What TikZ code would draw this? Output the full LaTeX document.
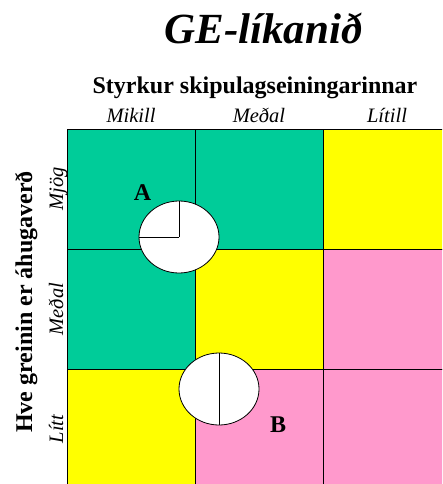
\documentclass[tikz,border=0pt]{standalone}
\usepackage{fontspec}
\setmainfont{Liberation Serif}
\usetikzlibrary{positioning, shapes.geometric}

\begin{document}
\begin{tikzpicture}[x=1pt, y=-1pt, line width=0.8pt,
    cell/.style={draw, inner sep=0pt, outer sep=0pt,
                 minimum width=128pt, minimum height=120pt},
    hi/.style={cell, fill=geGreen},
    mid/.style={cell, fill=geYellow},
    lo/.style={cell, fill=gePink},
    pie/.style={draw, fill=white, ellipse, inner sep=0pt,
                minimum width=80pt, minimum height=72pt},
    axis/.style={font=\fontsize{24}{28}\selectfont\bfseries, anchor=base},
    tick/.style={font=\fontsize{20.5}{24}\selectfont\itshape, anchor=base},
    tag/.style={font=\fontsize{24}{28}\selectfont\bfseries, anchor=base}]

    \definecolor{geGreen}{RGB}{0,204,153}
    \definecolor{geYellow}{RGB}{255,255,0}
    \definecolor{gePink}{RGB}{255,153,204}

    \useasboundingbox (0,0) rectangle (442,484);
    \clip (0,0) rectangle (442,484);

    % --- Title ---
    \node[font=\fontsize{43}{48}\selectfont\bfseries\itshape, anchor=base]
      (title) at (263.5, 44) {GE-líkanið};

    % --- Axis titles ---
    \node[axis] (xaxis) at (255, 94) {Styrkur skipulagseiningarinnar};
    \node[axis, rotate=90] (yaxis) at (32, 302) {Hve greinin er áhugaverð};

    % --- Column labels ---
    \node[tick] (colA) at (131, 123) {Mikill};
    \node[tick] (colB) at (259, 123) {Meðal};
    \node[tick] (colC) at (387, 123) {Lítill};

    % --- Row labels ---
    \node[tick, rotate=90] (rowA) at (63, 189) {Mjög};
    \node[tick, rotate=90] (rowB) at (63, 309) {Meðal};
    \node[tick, rotate=90] (rowC) at (63, 429) {Lítt};

    % --- Matrix cells ---
    \node[hi]  (c11) at (131, 189) {};
    \node[hi]  (c12) at (259, 189) {};
    \node[mid] (c13) at (387, 189) {};
    \node[hi]  (c21) at (131, 309) {};
    \node[mid] (c22) at (259, 309) {};
    \node[lo]  (c23) at (387, 309) {};
    \node[mid] (c31) at (131, 429) {};
    \node[lo]  (c32) at (259, 429) {};
    \node[lo]  (c33) at (387, 429) {};

    % --- Business units ---
    \node[pie] (pa) at (179, 237) {};
    \draw (pa.center) -- (pa.north);
    \draw (pa.center) -- (pa.west);
    \node[tag] (la) at (142.5, 200) {A};

    \node[pie] (pb) at (219, 389) {};
    \draw (pb.north) -- (pb.south);
    \node[tag] (lb) at (278, 432) {B};
\end{tikzpicture}
\end{document}
